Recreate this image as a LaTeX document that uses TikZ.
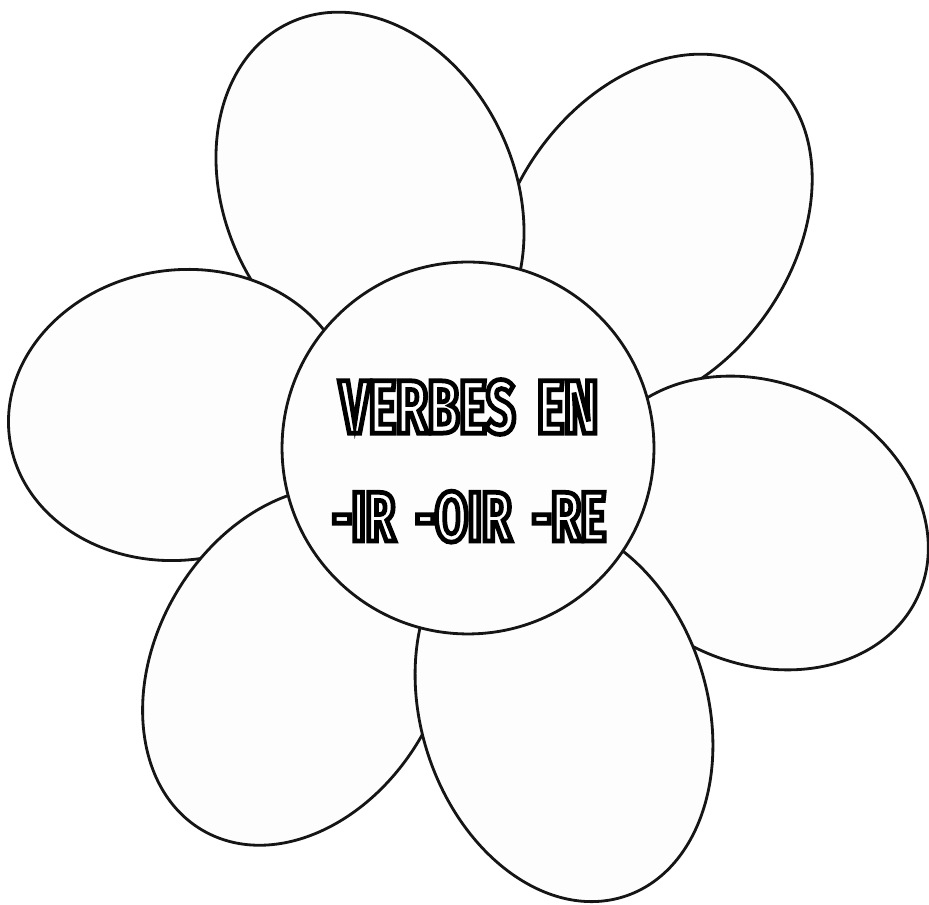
\documentclass[tikz,border=0pt]{standalone}
\usepackage{fontspec}
\usepackage{xcolor}
\definecolor{fleurfond}{HTML}{FDFDFD}
\definecolor{fleurtrait}{HTML}{151515}
\newfontfamily\fleurfont[FakeStretch=0.68,WordSpace=1.8]{Fira Sans}
\newcommand{\lettrecreuse}[1]{\textcolor{white}{\special{pdf:literal direct 2 Tr 2.7 w 0 G}#1\special{pdf:literal direct 0 Tr}}}
\usepackage{tikz}
\usetikzlibrary{positioning}
\tikzset{
  petale/.style={draw=fleurtrait,fill=fleurfond,line width=1.6pt},
  coeur/.style={circle,draw=fleurtrait,fill=fleurfond,line width=1.6pt,minimum size=7.44cm,inner sep=0pt},
  titre/.style={font=\fleurfont\bfseries\fontsize{#1}{#1}\selectfont,inner sep=0pt},
}
\begin{document}
\begin{tikzpicture}[x=0.02cm,y=0.02cm]
\useasboundingbox (0,0) rectangle (929,905);
% petales, du dessous vers le dessus
\draw[petale,rotate around={-35:(652,672)}] (652,672) ellipse [x radius=140,y radius=195];
\draw[petale,rotate around={25:(370,710)}] (370,710) ellipse [x radius=145,y radius=190];
\draw[petale,rotate around={-25:(759,382)}] (759,382) ellipse [x radius=175,y radius=140];
\draw[petale,rotate around={8:(180,490)}] (180,490) ellipse [x radius=172,y radius=145];
\draw[petale,rotate around={-30:(298,239)}] (298,239) ellipse [x radius=142,y radius=190];
\draw[petale,rotate around={18:(564,195)}] (564,195) ellipse [x radius=143,y radius=196];
% coeur
\node[coeur] (coeur) at (468,457) {};
\node[titre=43] (verbes) at (469,498) {\lettrecreuse{VERBES EN}};
\node[titre=40,below=1.12cm of verbes] (suffixes) {\lettrecreuse{-IR -OIR -RE}};
\end{tikzpicture}
\end{document}
